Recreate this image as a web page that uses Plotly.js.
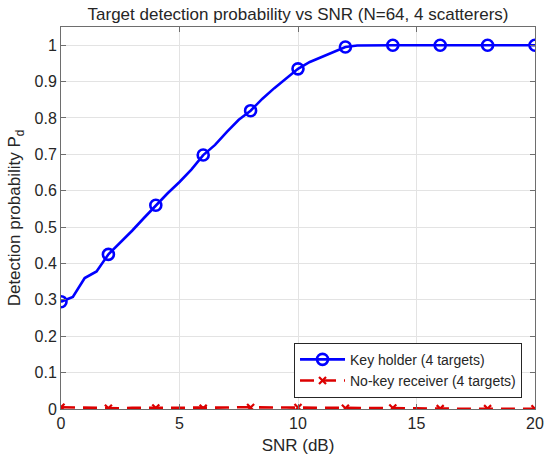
<!DOCTYPE html>
<html>
<head>
<meta charset="utf-8">
<script src="https://cdn.plot.ly/plotly-3.0.1.min.js"></script>
<style>
html,body{margin:0;padding:0;background:#fff;}
#chart{width:550px;height:461px;}
</style>
</head>
<body>
<div id="chart"></div>
<script>
// SNR grid in dB (0:0.5:20)
var snrDb = [0,0.5,1,1.5,2,2.5,3,3.5,4,4.5,5,5.5,6,6.5,7,7.5,8,8.5,9,9.5,10,
             10.5,11,11.5,12,12.5,13,13.5,14,14.5,15,15.5,16,16.5,17,17.5,18,18.5,19,19.5,20];

// Key holder (4 targets)
var pdKeyHolder = [0.295,0.308,0.360,0.378,0.425,0.457,0.490,0.525,0.560,0.593,0.624,0.658,0.698,
                   0.726,0.762,0.795,0.820,0.853,0.882,0.908,0.935,0.954,0.968,0.983,0.995,0.999,
                   1,1,1,1,1,1,1,1,1,1,1,1,1,1,1];

// No-key receiver (4 targets)
var pdNoKey = [0.005,0.004,0.003,0.003,0.002,0.002,0.003,0.003,0.003,0.003,0.002,0.002,0.002,
               0.003,0.004,0.005,0.004,0.005,0.004,0.004,0.004,0.003,0.002,0.002,0.002,0.002,
               0.002,0.002,0.003,0.003,0.002,0.001,0.001,0.001,0.001,0.001,0.001,0.001,0.001,0.0005,0.0005];

var seriesNames = ['Key holder (4 targets)', 'No-key receiver (4 targets)'];
var titleText = 'Target detection probability vs SNR (N=64, 4 scatterers)';
var xTitle = 'SNR (dB)';
var yTitle = 'Detection probability P<sub>d</sub>';
var yTickVals = [0,0.1,0.2,0.3,0.4,0.5,0.6,0.7,0.8,0.9,1];
var yTickText = ['0','0.1','0.2','0.3','0.4','0.5','0.6','0.7','0.8','0.9','1'];

var BLUE = '#0000ff', RED = '#dc0000';
function markerColors(col) {
  return snrDb.map(function (v) { return (v % 2 === 0) ? col : 'rgba(0,0,0,0)'; });
}

var traces = [
  {
    x: snrDb, y: pdKeyHolder, name: seriesNames[0], type: 'scatter', mode: 'lines+markers',
    line: {color: BLUE, width: 2.6, shape: 'linear'},
    marker: {symbol: 'circle-open', size: 11, color: markerColors(BLUE), line: {width: 2.6}}
  },
  {
    x: snrDb, y: pdNoKey, name: seriesNames[1], type: 'scatter', mode: 'lines+markers',
    line: {color: RED, width: 2.6, dash: '14px,8px'},
    marker: {symbol: 'x-thin-open', size: 7, color: markerColors(RED), line: {width: 2.2}}
  }
];

var axisCommon = {
  showline: true, linecolor: '#6e6e6e', linewidth: 1, mirror: 'ticks',
  ticks: 'inside', ticklen: 5, tickwidth: 1, tickcolor: '#6e6e6e',
  showgrid: true, gridcolor: '#e3e3e3', gridwidth: 1, zeroline: false,
  tickfont: {family: 'Liberation Sans, Arial, sans-serif', size: 16, color: '#262626'}
};

var layout = {
  width: 550, height: 461,
  margin: {l: 61, r: 15, t: 27, b: 52},
  paper_bgcolor: '#ffffff', plot_bgcolor: '#ffffff',
  font: {family: 'Liberation Sans, Arial, sans-serif', color: '#262626'},
  title: {text: titleText, x: 0.5, xref: 'paper', y: 1 - 14 / 461, yref: 'container', yanchor: 'middle',
          font: {size: 17, color: '#262626'}},
  xaxis: Object.assign({}, axisCommon, {
    range: [0, 20], dtick: 5, tick0: 0,
    title: {text: xTitle, standoff: 7, font: {size: 17, color: '#262626'}}
  }),
  yaxis: Object.assign({}, axisCommon, {
    range: [0, 1.05], tickvals: yTickVals, ticktext: yTickText,
    title: {text: yTitle, standoff: 9, font: {size: 17, color: '#262626'}}
  }),
  showlegend: true,
  legend: {
    x: 0.9726, xanchor: 'right', y: 0.0295, yanchor: 'bottom',
    bgcolor: '#ffffff', bordercolor: '#262626', borderwidth: 1,
    font: {size: 14, color: '#262626'}, itemwidth: 45, tracegroupgap: 0
  }
};

Plotly.newPlot('chart', traces, layout, {displayModeBar: false, staticPlot: true});
</script>
</body>
</html>
